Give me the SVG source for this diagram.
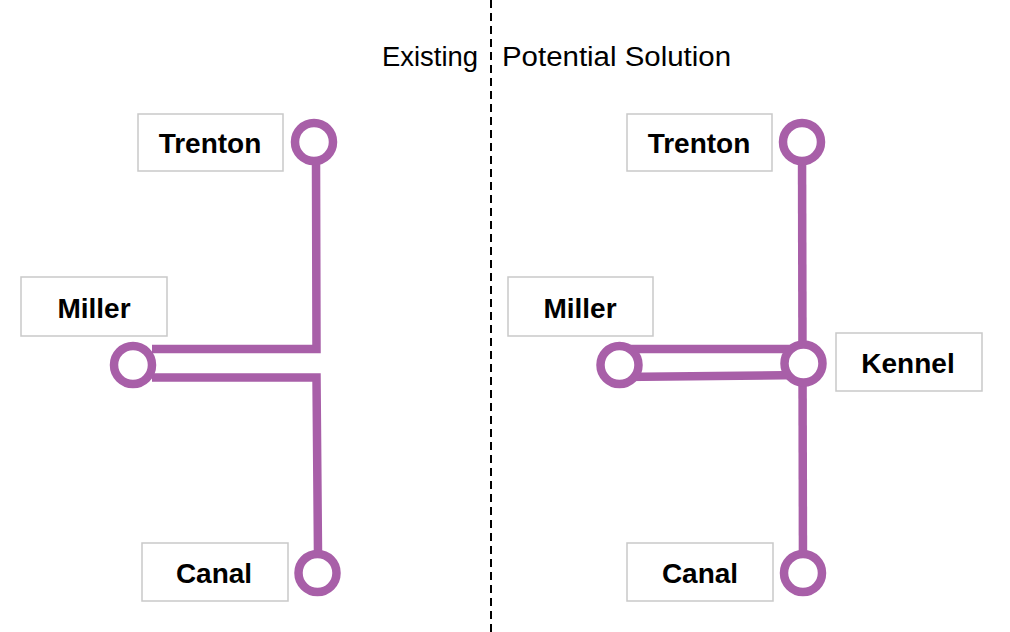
<svg xmlns="http://www.w3.org/2000/svg" width="1010" height="632" viewBox="0 0 1010 632">
  <style>
    .box { fill: #ffffff; stroke: #c9c9c9; stroke-width: 1.5; }
    .label { font-family: "Liberation Sans", Arial, sans-serif; font-weight: bold; font-size: 28px; fill: #000000; text-anchor: middle; }
    .heading { font-family: "Liberation Sans", Arial, sans-serif; font-size: 27px; fill: #000000; }
    .route { fill: none; stroke: #a85fa8; stroke-width: 8.5; stroke-linejoin: miter; stroke-linecap: butt; }
    .stop { fill: #ffffff; stroke: #a85fa8; stroke-width: 8.5; }
    .divider { stroke: #000000; stroke-width: 2; stroke-dasharray: 8 5; }
  </style>

  <rect width="1010" height="632" fill="#ffffff"/>

  <!-- divider between the two layouts -->
  <line class="divider" x1="491" y1="0" x2="491" y2="632"/>
  <text class="heading" x="382" y="66" textLength="96" lengthAdjust="spacingAndGlyphs">Existing</text>
  <text class="heading" x="502" y="66" textLength="229" lengthAdjust="spacingAndGlyphs">Potential Solution</text>

  <!-- connectors -->
  <g id="connectors">
    <!-- existing layout -->
    <path class="route" d="M152,349 L316.5,349 L316,160"/>
    <path class="route" d="M152,377.5 L316.5,377.5 L318,554"/>
    <!-- proposed layout -->
    <path class="route" d="M802,142 L803,573"/>
    <path class="route" d="M619,349 L803,349"/>
    <path class="route" d="M619,377 L803,375"/>
  </g>

  <!-- existing layout stops -->
  <g id="trenton-existing">
    <rect class="box" x="138" y="114" width="145" height="57"/>
    <text class="label" x="210" y="153">Trenton</text>
    <circle class="stop" cx="314" cy="142" r="19"/>
  </g>
  <g id="miller-existing">
    <rect class="box" x="21" y="277" width="146" height="59"/>
    <text class="label" x="94" y="318">Miller</text>
    <circle class="stop" cx="133" cy="365" r="19"/>
  </g>
  <g id="canal-existing">
    <rect class="box" x="142" y="543" width="146" height="58"/>
    <text class="label" x="214" y="583">Canal</text>
    <circle class="stop" cx="317.5" cy="573" r="19"/>
  </g>

  <!-- proposed layout stops -->
  <g id="trenton-proposed">
    <rect class="box" x="627" y="114" width="145" height="57"/>
    <text class="label" x="699" y="153">Trenton</text>
    <circle class="stop" cx="802" cy="142" r="19"/>
  </g>
  <g id="miller-proposed">
    <rect class="box" x="508" y="277" width="145" height="59"/>
    <text class="label" x="580" y="318">Miller</text>
    <circle class="stop" cx="619.5" cy="365" r="19"/>
  </g>
  <g id="kennel-proposed">
    <rect class="box" x="836" y="333" width="146" height="58"/>
    <text class="label" x="908" y="373">Kennel</text>
    <circle class="stop" cx="803.5" cy="363.5" r="19"/>
  </g>
  <g id="canal-proposed">
    <rect class="box" x="627" y="543" width="146" height="58"/>
    <text class="label" x="700" y="583">Canal</text>
    <circle class="stop" cx="803" cy="573" r="19"/>
  </g>
</svg>
